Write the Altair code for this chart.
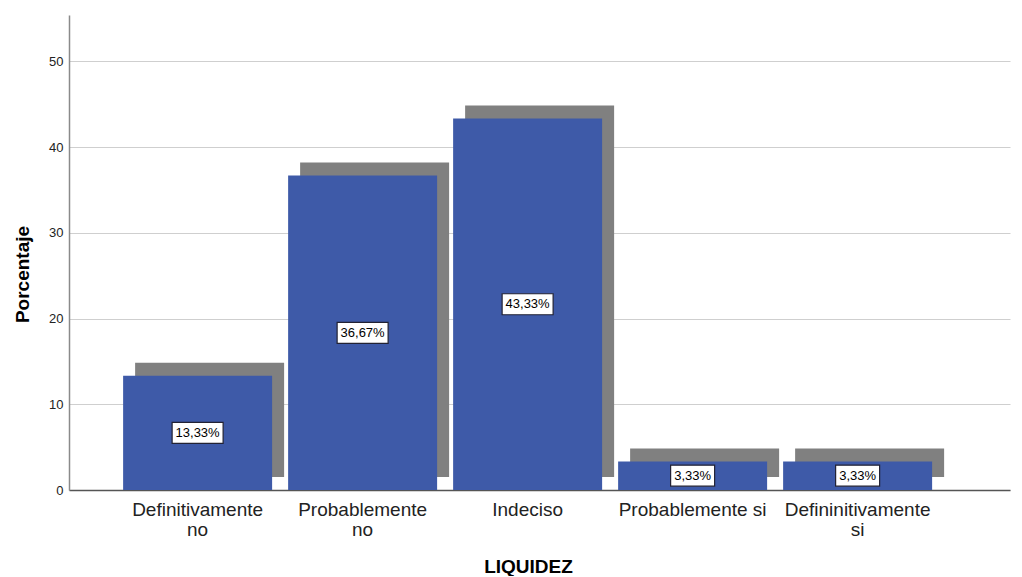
import altair as alt
import pandas as pd

categories = ["Definitivamente\nno", "Probablemente\nno", "Indeciso", "Probablemente si", "Defininitivamente\nsi"]
percentages = [13.33, 36.67, 43.33, 3.33, 3.33]

labels = [f"{v:.2f}".replace(".", ",") + "%" for v in percentages]
df = pd.DataFrame({"cat": categories, "pct": percentages, "label": labels})

FONT = "Liberation Sans"
BLUE = "#3e5aa8"
SHADOW = "#808080"

x_enc = alt.X(
    "cat:N",
    sort=categories,
    scale=alt.Scale(paddingInner=0.097, paddingOuter=0.4, align=0.41),
    axis=alt.Axis(
        title="LIQUIDEZ",
        titleFont=FONT, titleFontSize=19, titleFontWeight="bold", titleColor="#000000",
        titleX=459, titleY=76, titleBaseline="middle",
        labelFont=FONT, labelFontSize=19, labelColor="#222222", labelAngle=0,
        labelExpr="split(datum.label, '\\n')", labelLineHeight=20,
        labelPadding=10, ticks=False, domainColor="#555555", domainWidth=1.5,
        labelBaseline="top",
    ),
)
y_scale = alt.Scale(domain=[0, 55.4], nice=False, zero=True)
y_enc = alt.Y(
    "pct:Q",
    scale=y_scale,
    axis=alt.Axis(
        title="Porcentaje",
        titleFont=FONT, titleFontSize=19, titleFontWeight="bold", titleColor="#000000",
        titleX=-47, titleY=259, titleBaseline="middle", titleAlign="center",
        values=[0, 10, 20, 30, 40, 50],
        labelFont=FONT, labelFontSize=13, labelColor="#222222", labelPadding=6,
        ticks=False, domainColor="#8a8a8a", domainWidth=1.5,
        grid=True, gridColor="#cfcfcf", gridWidth=1.2,
    ),
)

base = alt.Chart(df)

shadow = base.mark_bar(color=SHADOW, xOffset=12, x2Offset=12, yOffset=-13, y2Offset=-13).encode(
    x=x_enc, y=y_enc
)
bars = base.mark_bar(color=BLUE).encode(x=x_enc, y=y_enc)

boxes = base.transform_calculate(
    mid="datum.pct / 2",
    bw="length(datum.label) * 7 + 9",
    sz="datum.bw * datum.bw",
    shp="'M-1,' + (-21 / datum.bw) + 'L1,' + (-21 / datum.bw) + 'L1,' + (21 / datum.bw) + 'L-1,' + (21 / datum.bw) + 'Z'",
).mark_point(filled=True, fill="#ffffff", stroke="#222233", strokeWidth=1.2, opacity=1, fillOpacity=1).encode(
    x=alt.X("cat:N", sort=categories),
    y=alt.Y("mid:Q", scale=y_scale),
    size=alt.Size("sz:Q", scale=None, legend=None),
    shape=alt.Shape("shp:N", scale=None, legend=None),
)

texts = base.transform_calculate(mid="datum.pct / 2").mark_text(
    font=FONT, fontSize=13, color="#000000", align="center", baseline="middle"
).encode(
    x=alt.X("cat:N", sort=categories),
    y=alt.Y("mid:Q", scale=y_scale),
    text="label:N",
)

chart = alt.layer(shadow, bars, boxes, texts).properties(
    width=941,
    height=475,
    background="#ffffff",
    autosize=alt.AutoSizeParams(type="none"),
    padding={"left": 61, "top": 7, "right": 4, "bottom": 86},
).configure_view(stroke=None)

chart.save("out.html", embed_options={"renderer": "svg", "actions": False})
